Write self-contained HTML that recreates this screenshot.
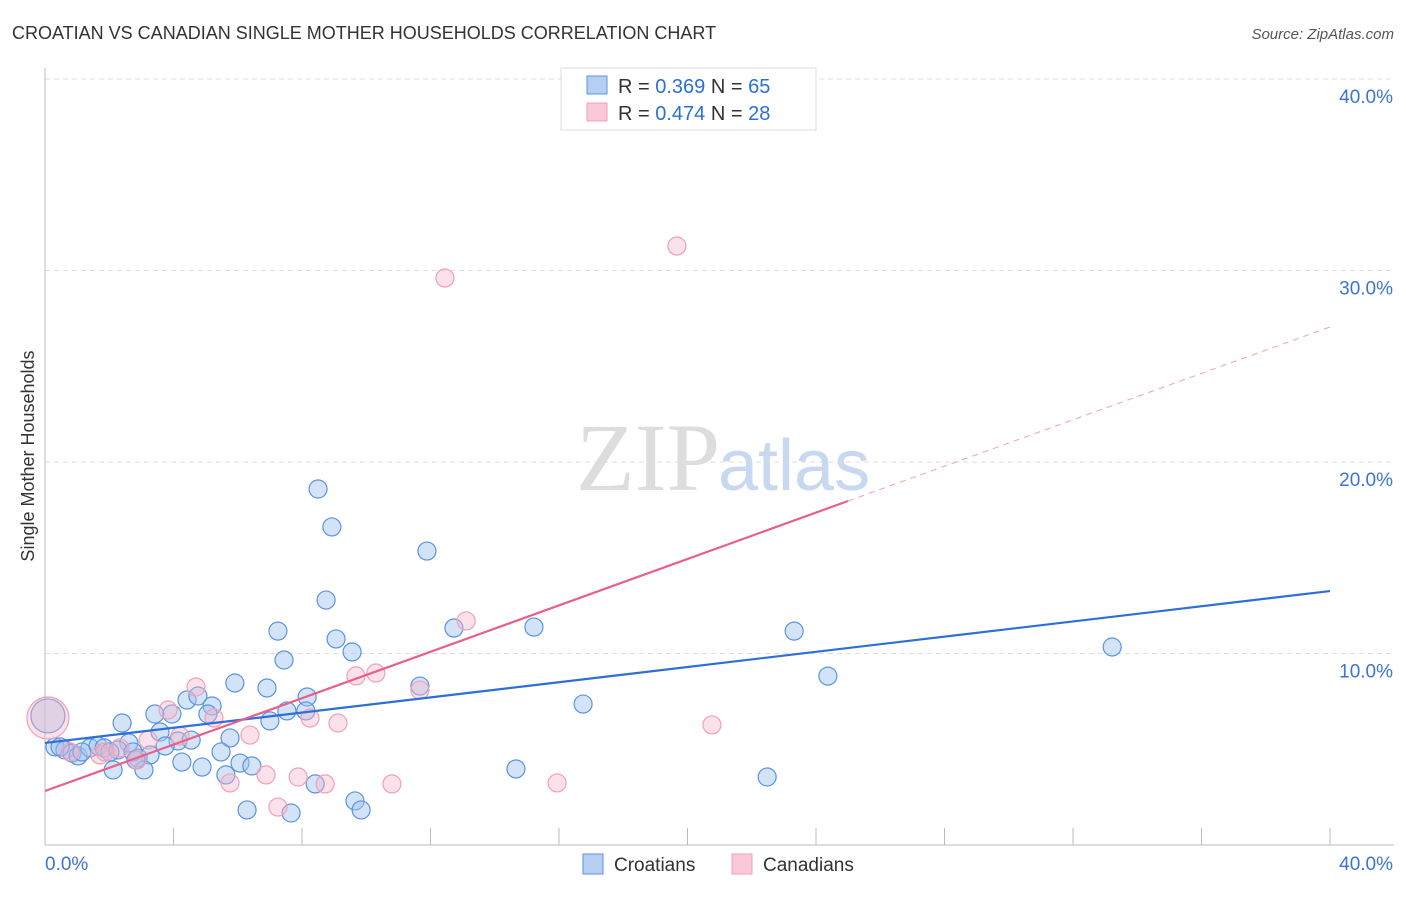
<!DOCTYPE html>
<html><head><meta charset="utf-8"><style>
body{margin:0;background:#fff;font-family:"Liberation Sans",sans-serif}
</style></head><body>
<svg id="c" width="1406" height="892" xmlns="http://www.w3.org/2000/svg" style="font-family:'Liberation Sans',sans-serif">
<text x="12" y="39" font-size="18" fill="#333">CROATIAN VS CANADIAN SINGLE MOTHER HOUSEHOLDS CORRELATION CHART</text>
<text x="1394" y="39" font-size="15" fill="#555" font-style="italic" text-anchor="end">Source: ZipAtlas.com</text>
<text x="0" y="0" transform="translate(34,456) rotate(-90)" font-size="18" fill="#333" text-anchor="middle">Single Mother Households</text>
<text x="720" y="490" font-size="96" fill="#ddd" text-anchor="end" font-family="'Liberation Serif',serif">ZIP</text>
<text x="718" y="490" font-size="72" fill="#c8d8f0">atlas</text>
<g id="grid"></g><g id="axes"></g><g id="pts"></g><g id="lines"></g>
<g>
<rect x="561" y="68" width="255" height="62" fill="#fff" stroke="#ddd"/>
<rect x="587" y="76" width="20" height="18" fill="#b5cff3" stroke="#5b93e0"/>
<text x="618" y="93" font-size="20" fill="#333">R = <tspan fill="#2c6fd6">0.369</tspan>   N = <tspan fill="#2c6fd6">65</tspan></text>
<rect x="587" y="103" width="20" height="18" fill="#f9c9d7" stroke="#f0a0b8"/>
<text x="618" y="120" font-size="20" fill="#333">R = <tspan fill="#2c6fd6">0.474</tspan>   N = <tspan fill="#2c6fd6">28</tspan></text>
</g>
<g>
<rect x="583" y="854" width="20" height="20" fill="#b5cff3" stroke="#5b93e0"/>
<text x="614" y="871" font-size="19" fill="#333">Croatians</text>
<rect x="732" y="854" width="20" height="20" fill="#f9c9d7" stroke="#f0a0b8"/>
<text x="763" y="871" font-size="19" fill="#333">Canadians</text>
</g>
</svg>
<script>
const yTicks=[10,20,30,40];
const yTickLabels=["10.0%","20.0%","30.0%","40.0%"];
const xTickVals=[0,4,8,12,16,20,24,28,32,36,40];
const croX=[8.50,8.93,11.89,8.75,7.25,9.06,9.56,12.73,15.22,7.44,5.91,6.91,4.42,4.76,5.20,5.07,3.42,3.95,2.40,8.16,7.53,8.12,7.00,11.67,16.75,23.32,24.37,33.22,3.58,2.61,4.14,4.55,3.74,5.76,5.48,6.07,6.44,4.26,4.89,5.63,2.90,3.27,2.12,3.08,0.31,0.62,0.84,1.03,1.40,1.65,1.84,2.27,2.74,2.83,14.66,22.48,8.41,9.65,9.84,6.29,7.66,0.09,1.15,0.47,2.02];
const croY=[18.59,16.61,15.35,12.79,11.17,10.76,10.08,11.33,11.38,9.66,8.46,8.20,7.57,7.78,7.26,6.84,6.84,6.84,6.37,7.73,7.00,7.00,6.48,8.30,7.36,11.17,8.82,10.34,5.90,5.33,5.43,5.48,5.17,5.59,4.86,4.28,4.13,4.33,4.07,3.66,4.54,4.70,3.92,3.92,5.12,4.96,4.80,4.65,5.07,5.17,5.07,4.96,4.86,4.44,3.97,3.55,3.19,2.30,1.83,1.83,1.67,6.74,4.86,5.12,4.86];
const canX=[19.67,12.45,13.11,10.30,9.68,11.67,8.25,9.12,4.70,3.83,5.26,6.38,3.21,2.33,1.71,20.76,6.88,7.88,8.72,10.80,15.94,7.25,5.76,0.09,4.20,2.86,1.87,0.78];
const canY=[31.28,29.61,11.70,8.98,8.83,8.09,6.63,6.37,8.25,7.05,6.63,5.74,5.48,5.07,4.70,6.27,3.66,3.55,3.19,3.19,3.24,1.98,3.24,6.63,5.69,4.44,4.86,4.86];
const croTrend=[5.33,13.26];
const canTrend=[2.82,27.05];
const canSolidEnd=25.0;
const X0=45,X1=1330,Y0=845;
const sx=v=>X0+(X1-X0)*v/40;
const sy=v=>Y0-v*19.15;
const NS="http://www.w3.org/2000/svg";
function mk(tag,attrs,parent){const e=document.createElementNS(NS,tag);for(const k in attrs)e.setAttribute(k,attrs[k]);document.getElementById(parent).appendChild(e);return e;}
yTicks.forEach((t,i)=>{
 const l=mk('line',{x1:X0,x2:1394,y1:sy(t),y2:sy(t),stroke:'#ddd','stroke-dasharray':'5,4'},'grid');
 
 
 const tx=mk('text',{x:1393,y:sy(t)+24,'font-size':19,fill:'#3c74d4','text-anchor':'end'},'grid');
 tx.textContent=yTickLabels[i];
 
 
});
const ya=mk('line',{x1:X0,x2:X0,y1:68,y2:Y0,stroke:'#bbb'},'axes');


const xa=mk('line',{x1:X0,x2:1394,y1:Y0,y2:Y0,stroke:'#bbb'},'axes');


xTickVals.forEach(v=>{
 const t=mk('line',{x1:sx(v),x2:sx(v),y1:828,y2:Y0,stroke:'#bbb'},'axes');
 
 
});
const xl0=mk('text',{x:45,y:870,'font-size':19,fill:'#3c74d4'},'axes');xl0.textContent='0.0%';


const xl1=mk('text',{x:1393,y:870,'font-size':19,fill:'#3c74d4','text-anchor':'end'},'axes');xl1.textContent='40.0%';


croX.forEach((x,i)=>{
 const big=(x<0.2);
 const c=mk('circle',{cx:sx(x),cy:sy(croY[i]),r:big?17:9,fill:'rgba(160,195,240,0.45)',stroke:'#5b93e0','stroke-width':1.2},'pts');
 
 
});
canX.forEach((x,i)=>{
 const big=(x<0.2);
 const c=mk('circle',{cx:sx(x),cy:sy(canY[i]),r:big?21:9,fill:'rgba(245,180,200,0.4)',stroke:'#f0a0b8','stroke-width':1.2},'pts');
 
 
});
const cl=mk('line',{x1:sx(0),y1:sy(croTrend[0]),x2:sx(40),y2:sy(croTrend[1]),stroke:'#2c6fd6','stroke-width':2.2},'lines');


const ce=canTrend[0]+(canTrend[1]-canTrend[0])*canSolidEnd/40;
const pl=mk('line',{x1:sx(0),y1:sy(canTrend[0]),x2:sx(canSolidEnd),y2:sy(ce),stroke:'#e8608a','stroke-width':2.2},'lines');


const pd=mk('line',{x1:sx(canSolidEnd),y1:sy(ce),x2:sx(40),y2:sy(canTrend[1]),stroke:'#f0a0b8','stroke-width':1,'stroke-dasharray':'6,5'},'lines');


</script>
</body></html>
